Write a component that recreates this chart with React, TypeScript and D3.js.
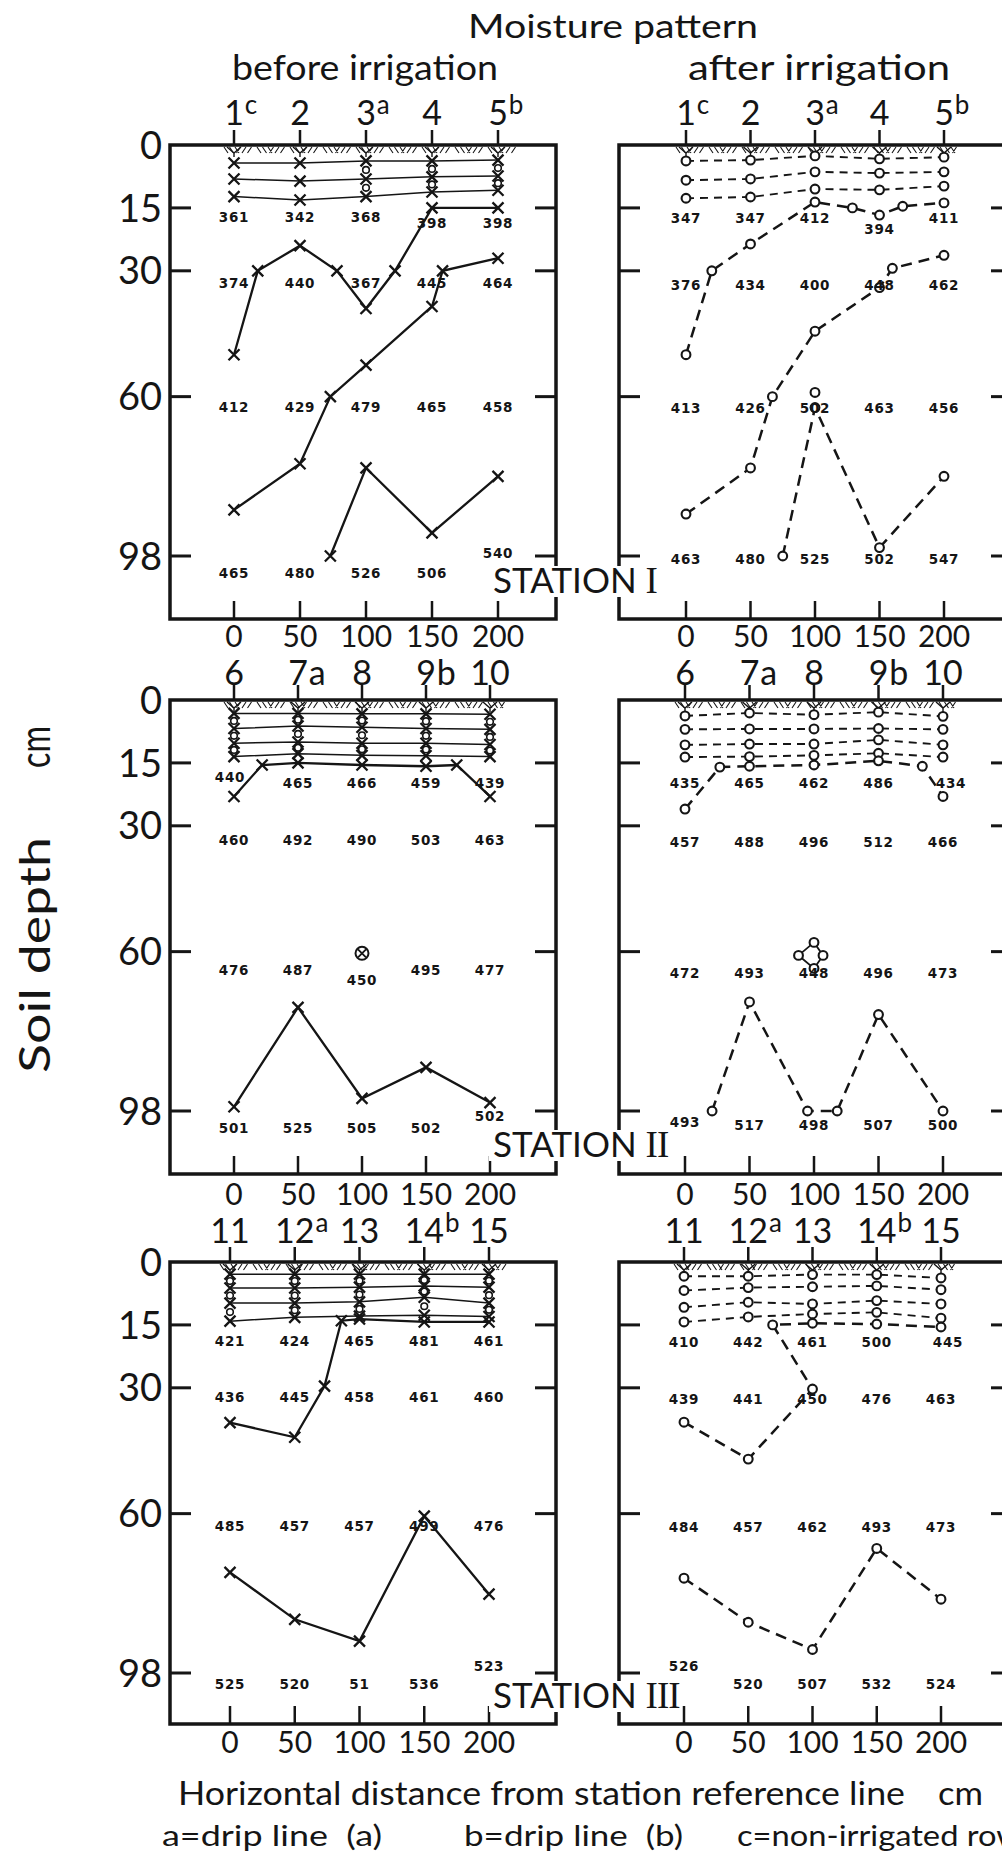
import { useEffect, useRef } from "react";
import * as d3 from "d3";

type Pt = [number, number];

const distTicks = [0, 50, 100, 150, 200];
const depthTicks = [0, 15, 30, 60, 98];
const valueDepths = [15, 30, 60, 98];

const stationNumI = ["1", "2", "3", "4", "5"];
const stationTagI = ["c", "", "a", "", "b"];
const stationNumII = ["6", "7", "8", "9", "10"];
const stationTagII = ["", "a", "", "b", ""];
const stationNumIII = ["11", "12", "13", "14", "15"];
const stationTagIII = ["", "a", "", "b", ""];
const stationNames = ["I", "II", "III"];

// moisture readings: rows = 15, 30, 60, 98 cm ; columns = 0..200 cm
const moistIBefore = [
  [361, 342, 368, 398, 398],
  [374, 440, 367, 445, 464],
  [412, 429, 479, 465, 458],
  [465, 480, 526, 506, 540],
];
const moistIAfter = [
  [347, 347, 412, 394, 411],
  [376, 434, 400, 448, 462],
  [413, 426, 502, 463, 456],
  [463, 480, 525, 502, 547],
];
const moistIIBefore = [
  [440, 465, 466, 459, 439],
  [460, 492, 490, 503, 463],
  [476, 487, 450, 495, 477],
  [501, 525, 505, 502, 502],
];
const moistIIAfter = [
  [435, 465, 462, 486, 434],
  [457, 488, 496, 512, 466],
  [472, 493, 448, 496, 473],
  [493, 517, 498, 507, 500],
];
const moistIIIBefore = [
  [421, 424, 465, 481, 461],
  [436, 445, 458, 461, 460],
  [485, 457, 457, 499, 476],
  [525, 520, 51, 536, 523],
];
const moistIIIAfter = [
  [410, 442, 461, 500, 445],
  [439, 441, 450, 476, 463],
  [484, 457, 462, 493, 473],
  [526, 520, 507, 532, 524],
];

// shallow moisture lines, depth (cm) at each station
const topLinesIBefore = [
  [4.3, 4.3, 3.8, 3.8, 3.6],
  [8.1, 8.6, 8.1, 7.6, 7.4],
  [12.3, 13.1, 12.3, 11.2, 10.8],
];
const topLinesIAfter = [
  [3.8, 3.6, 2.6, 3.3, 2.9],
  [8.4, 8.1, 6.4, 6.7, 6.4],
  [12.7, 12.4, 10.5, 10.7, 9.8],
];
const topLinesIIBefore = [
  [3.2, 3.2, 3.3, 3.3, 3.4],
  [6.8, 6.2, 6.5, 6.8, 7.0],
  [10.3, 10.0, 10.3, 10.3, 10.6],
  [13.5, 12.8, 13.2, 13.3, 13.5],
];
const topLinesIIAfter = [
  [3.8, 3.1, 3.5, 2.9, 3.9],
  [7.0, 6.9, 6.9, 6.8, 7.0],
  [10.7, 10.5, 10.5, 9.5, 10.7],
  [13.6, 13.5, 13.2, 12.7, 13.6],
];
const topLinesIIIBefore = [
  [2.9, 2.9, 2.9, 2.9, 2.9],
  [6.2, 6.2, 6.0, 5.7, 6.0],
  [9.8, 9.8, 9.5, 8.4, 9.8],
  [14.1, 13.2, 12.9, 12.7, 13.0],
];
const topLinesIIIAfter = [
  [3.4, 3.4, 3.0, 3.0, 3.8],
  [6.8, 6.1, 5.9, 5.7, 6.6],
  [10.8, 9.6, 10.0, 9.2, 10.0],
  [14.3, 13.1, 12.4, 12.0, 13.4],
];

// moisture fronts, [distance cm, depth cm]
const frontsIBefore: Pt[][] = [
  [[0, 50], [18, 30], [50, 24], [78, 30], [100, 39], [122, 30], [150, 15], [200, 15]],
  [[200, 27], [158, 30], [150, 38.5], [100, 52.5], [73, 60], [50, 76], [0, 87]],
  [[73, 98], [100, 77], [150, 92.5], [200, 79]],
];
const frontsIAfter: Pt[][] = [
  [[0, 50], [20, 30], [50, 23.6], [100, 13.6], [129, 15], [150, 16.7], [168, 14.6], [200, 13.8]],
  [[0, 88], [50, 77], [67, 60], [100, 44.4], [150, 34], [160, 29.4], [200, 26.3]],
  [[75, 98], [100, 62.6], [150, 96], [200, 79]],
];
const spotsIAfter: Pt[] = [[100, 59]];

const frontsIIBefore: Pt[][] = [
  [[0, 23], [22, 15.5], [50, 15], [100, 15.5], [150, 15.8], [174, 15.5], [200, 23]],
  [[0, 97], [50, 73.3], [100, 95], [150, 87.6], [200, 96]],
];
const spotsIIBefore: Pt[] = [[100, 60.4]];
const frontsIIAfter: Pt[][] = [
  [[0, 26], [27, 16], [50, 15.8], [100, 15.5], [150, 14.5], [184, 15.8], [200, 23]],
  [[21, 98], [50, 72], [95, 98], [118, 98], [150, 75], [200, 98]],
];
const ringIIAfter: Pt[] = [[100, 57.8], [88, 60.9], [100, 64], [107, 60.9]];

const frontsIIIBefore: Pt[][] = [
  [[0, 38.3], [50, 41.8], [73, 29.6], [86, 14], [100, 13.6], [150, 14.3], [200, 14.3]],
  [[0, 74], [50, 85.2], [100, 90.4], [150, 60.6], [200, 79.2]],
];
const frontsIIIAfter: Pt[][] = [
  [[0, 38.2], [50, 47], [100, 30.3], [69, 15], [100, 14.6], [150, 14.8], [200, 15.5]],
  [[0, 75.4], [50, 85.9], [100, 92.4], [150, 68.3], [200, 80.4]],
];

// ---- layout ----
const W = 1002;
const H = 1855;
const rowTops = [145, 700, 1262];
const rowBottoms = [619, 1174, 1724];
const colEdges = [[170, 556], [619, 1012]];
const depthSpan = 411;
const stationRanges = [
  [[234, 498], [686, 944]],
  [[234, 490], [685, 943]],
  [[230, 489], [684, 941]],
];
const labelShift = [
  [[9, 12, 11, 17], [10, 14, 12, 3]],
  [[20, 14, 19, 17], [20, 16, 22, 14]],
  [[16, 9, 13, 11], [17, 11, 14, 11]],
];
const stationBase = [26, 17, 16];
const topLabelGap = [20, 15, 19];
const bottomLabelGap = [28, 31, 29];
// [row, col, valueRow, station, dx, dy]
const nudges = [
  [0, 0, 3, 4, 0, -20],
  [0, 0, 0, 3, 0, 6],
  [0, 0, 0, 4, 0, 6],
  [0, 1, 0, 3, 0, 11],
  [1, 0, 0, 0, -4, -6],
  [1, 0, 2, 2, 0, 10],
  [1, 0, 3, 4, 0, -12],
  [1, 1, 0, 4, 8, 0],
  [1, 1, 3, 0, 0, -3],
  [2, 0, 3, 4, 0, -18],
  [2, 1, 3, 0, 0, -18],
  [2, 1, 0, 4, 7, 0],
];

const panels = [
  { row: 0, col: 0, after: false, vals: moistIBefore, lines: topLinesIBefore, fronts: frontsIBefore, spots: [] as Pt[], rings: [2, 3, 4], nums: stationNumI, tags: stationTagI, sup: true },
  { row: 0, col: 1, after: true, vals: moistIAfter, lines: topLinesIAfter, fronts: frontsIAfter, spots: spotsIAfter, rings: [], nums: stationNumI, tags: stationTagI, sup: true },
  { row: 1, col: 0, after: false, vals: moistIIBefore, lines: topLinesIIBefore, fronts: frontsIIBefore, spots: spotsIIBefore, rings: [0, 1, 2, 3, 4], nums: stationNumII, tags: stationTagII, sup: false },
  { row: 1, col: 1, after: true, vals: moistIIAfter, lines: topLinesIIAfter, fronts: frontsIIAfter, spots: [] as Pt[], rings: [], nums: stationNumII, tags: stationTagII, sup: false, diamond: ringIIAfter },
  { row: 2, col: 0, after: false, vals: moistIIIBefore, lines: topLinesIIIBefore, fronts: frontsIIIBefore, spots: [] as Pt[], rings: [0, 1, 2, 3, 4], nums: stationNumIII, tags: stationTagIII, sup: true },
  { row: 2, col: 1, after: true, vals: moistIIIAfter, lines: topLinesIIIAfter, fronts: frontsIIIAfter, spots: [] as Pt[], rings: [], nums: stationNumIII, tags: stationTagIII, sup: true },
];

export default function App() {
  const ref = useRef<SVGSVGElement>(null);

  useEffect(() => {
    const svg = d3.select(ref.current);
    svg.selectAll("*").remove();
    const ink = "#151515";
    const sans = "Lato, 'Noto Sans', sans-serif";
    const numFont = "'DejaVu Sans', sans-serif";

    svg.append("rect").attr("width", W).attr("height", H).attr("fill", "#fff");

    panels.forEach((p: any) => {
      const top = rowTops[p.row];
      const bottom = rowBottoms[p.row];
      const [left, right] = colEdges[p.col];
      const x = d3.scaleLinear().domain([0, 200]).range(stationRanges[p.row][p.col]);
      const y = d3.scaleLinear().domain([0, 98]).range([top, top + depthSpan]);
      const g = svg.append("g");

      g.append("rect")
        .attr("x", left).attr("y", top)
        .attr("width", right - left).attr("height", bottom - top)
        .attr("fill", "none").attr("stroke", ink).attr("stroke-width", 3.5);

      depthTicks.slice(1).forEach((d) => {
        g.append("line").attr("x1", left).attr("x2", left + 21).attr("y1", y(d)).attr("y2", y(d))
          .attr("stroke", ink).attr("stroke-width", 3);
        g.append("line").attr("x1", right - 21).attr("x2", right).attr("y1", y(d)).attr("y2", y(d))
          .attr("stroke", ink).attr("stroke-width", 3);
      });
      if (p.col === 0) {
        depthTicks.forEach((d) => {
          g.append("text").attr("x", left - 8).attr("y", y(d)).attr("dy", "0.36em")
            .attr("text-anchor", "end").attr("font-family", sans).attr("font-size", 38)
            .attr("fill", ink).text(d);
        });
      }

      distTicks.forEach((d, i) => {
        const sx = x(d);
        g.append("line").attr("x1", sx).attr("x2", sx).attr("y1", top - 15).attr("y2", top)
          .attr("stroke", ink).attr("stroke-width", 2.5);
        g.append("line").attr("x1", sx).attr("x2", sx).attr("y1", bottom - 18).attr("y2", bottom)
          .attr("stroke", ink).attr("stroke-width", 2.5);
        g.append("text").attr("x", sx).attr("y", bottom + bottomLabelGap[p.row]).attr("text-anchor", "middle")
          .attr("font-family", sans).attr("font-size", 30).attr("fill", ink).text(d);
        const ty = top - topLabelGap[p.row];
        const num = g.append("text").attr("x", sx).attr("y", ty).attr("text-anchor", "middle")
          .attr("font-family", sans).attr("font-size", 34).attr("fill", ink).text(p.nums[i]);
        if (p.tags[i]) {
          const w = (num.node() as SVGTextElement).getComputedTextLength();
          g.append("text").attr("x", sx + w / 2 + 1).attr("y", ty - (p.sup ? 11 : 0))
            .attr("font-family", sans).attr("font-size", p.sup ? 26 : 34).attr("fill", ink)
            .text(p.tags[i]);
        }
        // root mark at the surface
        g.append("path")
          .attr("d", `M${sx - 7},${top + 2}L${sx},${top + 8}L${sx + 7},${top + 2}M${sx},${top + 8}V${top + 12}`)
          .attr("fill", "none").attr("stroke", ink).attr("stroke-width", 1.4);
      });

      // soil surface hatching
      const hx = d3.range(x(0) - 10, x(200) + 18, 5.5);
      g.append("path")
        .attr("d", hx.map((v, k) => {
          const dir = Math.floor(k / 3) % 2 === 0 ? 1 : -1;
          return `M${v},${top + 2}l${dir * 4},6`;
        }).join(""))
        .attr("stroke", ink).attr("stroke-width", 1.1);

      const line = d3.line<Pt>().x((d) => x(d[0])).y((d) => y(d[1]));
      const mark = (pts: Pt[]) => {
        if (p.after) {
          g.selectAll(null).data(pts).enter().append("circle")
            .attr("cx", (d: Pt) => x(d[0])).attr("cy", (d: Pt) => y(d[1])).attr("r", 4.4)
            .attr("fill", "#fff").attr("stroke", ink).attr("stroke-width", 2.1);
        } else {
          g.selectAll(null).data(pts).enter().append("path")
            .attr("transform", (d: Pt) => `translate(${x(d[0])},${y(d[1])})`)
            .attr("d", "M-5.5,-5.5L5.5,5.5M-5.5,5.5L5.5,-5.5")
            .attr("stroke", ink).attr("stroke-width", 2.3);
        }
      };

      p.lines.forEach((depths: number[]) => {
        const pts = distTicks.map((d, i) => [d, depths[i]] as Pt);
        g.append("path").attr("d", line(pts)).attr("fill", "none").attr("stroke", ink)
          .attr("stroke-width", p.after ? 1.9 : 1.5)
          .attr("stroke-dasharray", p.after ? "8 6" : null);
      });
      p.fronts.forEach((f: Pt[]) => {
        g.append("path").attr("d", line(f)).attr("fill", "none").attr("stroke", ink)
          .attr("stroke-width", p.after ? 2.5 : 2.3)
          .attr("stroke-dasharray", p.after ? "11 7" : null);
      });

      // small rings between shallow lines
      p.rings.forEach((si: number) => {
        for (let k = 0; k < p.lines.length - 1; k++) {
          const mid = (p.lines[k][si] + p.lines[k + 1][si]) / 2;
          g.append("circle").attr("cx", x(distTicks[si])).attr("cy", y(mid)).attr("r", 3.3)
            .attr("fill", "#fff").attr("stroke", ink).attr("stroke-width", 1.6);
        }
      });

      p.lines.forEach((depths: number[]) => mark(distTicks.map((d, i) => [d, depths[i]] as Pt)));
      p.fronts.forEach((f: Pt[]) => mark(f));

      if (p.diamond) {
        g.append("path").attr("d", line(p.diamond) + "Z").attr("fill", "none")
          .attr("stroke", ink).attr("stroke-width", 1.8);
        mark(p.diamond);
      }
      p.spots.forEach((s: Pt) => {
        if (p.after) {
          mark([s]);
        } else {
          g.append("circle").attr("cx", x(s[0])).attr("cy", y(s[1])).attr("r", 6.5)
            .attr("fill", "#fff").attr("stroke", ink).attr("stroke-width", 2);
          g.append("path").attr("transform", `translate(${x(s[0])},${y(s[1])})`)
            .attr("d", "M-4,-4L4,4M-4,4L4,-4").attr("stroke", ink).attr("stroke-width", 1.8);
        }
      });

      p.vals.forEach((rowVals: number[], ri: number) => {
        rowVals.forEach((v, ci) => {
          const n = nudges.find((q) => q[0] === p.row && q[1] === p.col && q[2] === ri && q[3] === ci);
          const dx = n ? n[4] : 0;
          const dy = n ? n[5] : 0;
          g.append("text")
            .attr("x", x(distTicks[ci]) + dx)
            .attr("y", y(valueDepths[ri]) + labelShift[p.row][p.col][ri] + dy)
            .attr("dy", "0.36em").attr("text-anchor", "middle")
            .attr("font-family", numFont).attr("font-weight", "bold").attr("font-size", 13.5)
            .attr("letter-spacing", 0.8).attr("fill", ink).text(v);
        });
      });
    });

    // station names sit across the gap between the panels
    stationNames.forEach((nm, r) => {
      const base = rowBottoms[r] - stationBase[r];
      svg.append("rect").attr("x", 489).attr("y", base - 27).attr("width", 190).attr("height", 31)
        .attr("fill", "#fff");
      const t = svg.append("text").attr("x", 493).attr("y", base)
        .attr("font-family", sans).attr("font-size", 35).attr("fill", ink);
      t.append("tspan").text("STATION ");
      t.append("tspan").attr("font-family", "'Liberation Serif', serif").attr("font-size", 37)
        .attr("letter-spacing", -1).text(nm);
    });

    const label = (txt: string, x: number, yy: number, size: number, len: number) =>
      svg.append("text").attr("x", x).attr("y", yy).attr("font-family", sans)
        .attr("font-size", size).attr("fill", ink).attr("textLength", len)
        .attr("lengthAdjust", "spacingAndGlyphs").style("white-space", "pre").text(txt);

    label("Moisture pattern", 468, 38, 33, 290);
    label("before irrigation", 232, 80, 35, 266);
    label("after irrigation", 688, 80, 35, 262);
    label("Horizontal distance from station reference line", 178, 1805, 33, 727);
    label("cm", 938, 1805, 33, 45);
    label("a=drip line  (a)", 162, 1846, 29, 220);
    label("b=drip line  (b)", 464, 1846, 29, 219);
    label("c=non-irrigated row", 737, 1846, 29, 285);

    svg.append("text").attr("transform", "translate(50,1073) rotate(-90)")
      .attr("font-family", sans).attr("font-size", 42).attr("fill", ink)
      .attr("textLength", 236).attr("lengthAdjust", "spacingAndGlyphs").text("Soil depth");
    svg.append("text").attr("transform", "translate(50,768) rotate(-90)")
      .attr("font-family", sans).attr("font-size", 42).attr("fill", ink)
      .attr("textLength", 42).attr("lengthAdjust", "spacingAndGlyphs").text("cm");
  }, []);

  return (
    <div style={{ position: "absolute", left: 0, top: 0 }}>
      <svg ref={ref} width={W} height={H} style={{ display: "block" }} />
    </div>
  );
}
